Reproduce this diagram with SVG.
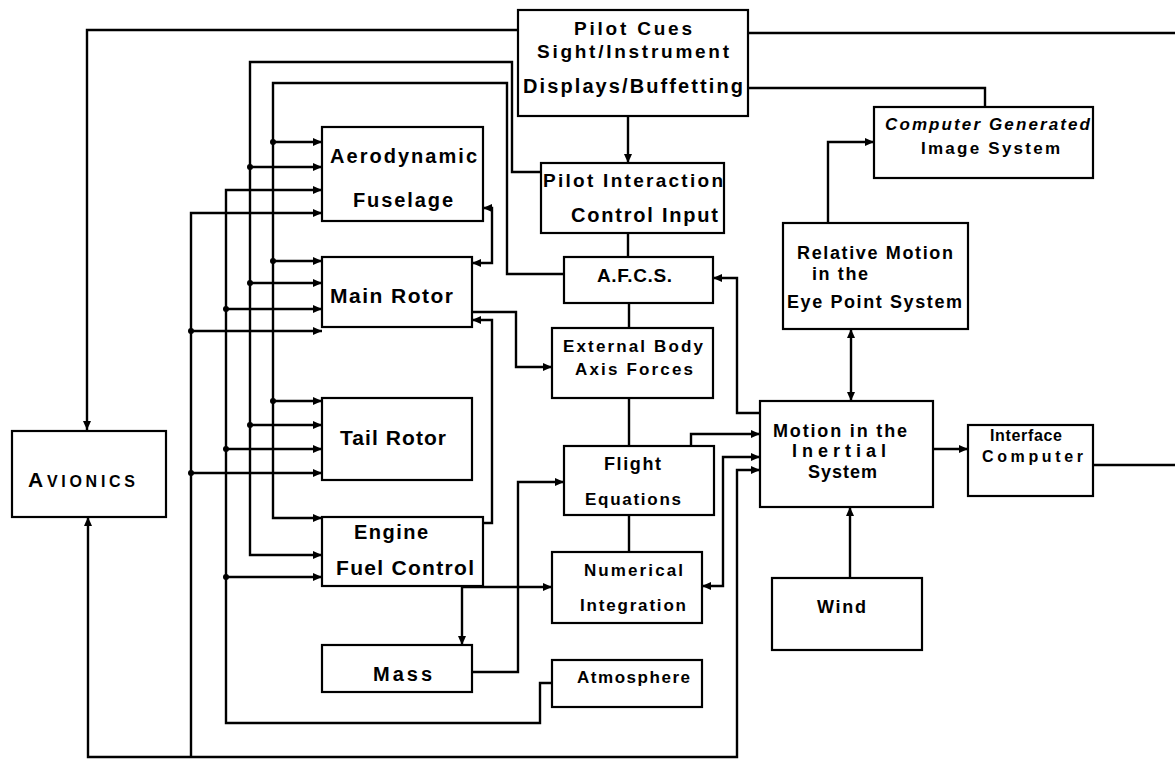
<svg xmlns="http://www.w3.org/2000/svg" width="1175" height="759" viewBox="0 0 1175 759">
<style>
.box{fill:#fff;stroke:#000;stroke-width:2.2}
.c{fill:none;stroke:#000;stroke-width:2.4;stroke-linejoin:miter}
.a{marker-end:url(#arr)}
.b{marker-start:url(#arr);marker-end:url(#arr)}
.t{marker-start:url(#dot);marker-end:url(#arr)}
text{font-family:"Liberation Sans",Arial,sans-serif;font-weight:bold;fill:#000}
</style>
<defs>
<marker id="arr" markerUnits="userSpaceOnUse" markerWidth="9" markerHeight="8" refX="9" refY="4" orient="auto-start-reverse"><path d="M0,0 L9,4 L0,8 z" fill="#000"/></marker>
<marker id="dot" markerUnits="userSpaceOnUse" markerWidth="7" markerHeight="7" refX="3.5" refY="3.5"><circle cx="3.5" cy="3.5" r="3" fill="#000"/></marker>
</defs>
<g id="connectors">
<path class="c a" d="M518,30 H87 V430"/>
<path class="c" d="M748,33 H1175"/>
<path class="c" d="M748,88 H985 V107"/>
<path class="c a" d="M628,116 V163"/>
<path class="c a" d="M541,172 H512 V62 H250 V555 H322"/>
<path class="c t" d="M250,167 H322"/>
<path class="c t" d="M250,283 H322"/>
<path class="c t" d="M250,425 H322"/>
<path class="c a" d="M564,274 H507 V83 H273 V518 H322"/>
<path class="c t" d="M273,142 H322"/>
<path class="c t" d="M273,261 H322"/>
<path class="c t" d="M273,401 H322"/>
<path class="c a" d="M552,683 H540 V723 H226 V190 H322"/>
<path class="c t" d="M226,309 H322"/>
<path class="c t" d="M226,449 H322"/>
<path class="c t" d="M226,577 H322"/>
<path class="c a" d="M191,757 V213 H322"/>
<path class="c t" d="M191,331 H322"/>
<path class="c t" d="M191,473 H322"/>
<path class="c b" d="M760,470 H737 V757 H88 V517"/>
<path class="c b" d="M483,208 H492 V263 H472"/>
<path class="c a" d="M472,312 H516 V367 H552"/>
<path class="c a" d="M483,523 H492 V320 H472"/>
<path class="c a" d="M462,587 V645"/>
<path class="c a" d="M462,587 H552"/>
<path class="c a" d="M472,672 H518 V482 H564"/>
<path class="c a" d="M691,446 V434 H760"/>
<path class="c a" d="M760,413 H737 V278 H713"/>
<path class="c b" d="M702,586 H723 V457 H760"/>
<path class="c b" d="M851,329 V401"/>
<path class="c a" d="M828,223 V142 H874"/>
<path class="c a" d="M933,449 H968"/>
<path class="c" d="M1093,465 H1175"/>
<path class="c a" d="M850,578 V507"/>
<path class="c" d="M628,233 V257 M629,303 V328 M629,398 V446 M629,515 V552"/>
</g>
<g id="pilot-cues"><rect class="box" x="518" y="10" width="230" height="106"/>
<text x="574" y="35" font-size="19" textLength="118" lengthAdjust="spacing">Pilot Cues</text>
<text x="537" y="58" font-size="19" textLength="192" lengthAdjust="spacing">Sight/Instrument</text>
<text x="523" y="93" font-size="20" textLength="220" lengthAdjust="spacing">Displays/Buffetting</text></g>
<g id="pilot-interaction"><rect class="box" x="541" y="163" width="183" height="70"/>
<text x="543" y="187" font-size="19" textLength="180" lengthAdjust="spacing">Pilot Interaction</text>
<text x="571" y="222" font-size="20" textLength="147" lengthAdjust="spacing">Control Input</text></g>
<g id="aerodynamic-fuselage"><rect class="box" x="322" y="127" width="161" height="94"/>
<text x="330" y="163" font-size="20" textLength="147" lengthAdjust="spacing">Aerodynamic</text>
<text x="353" y="207" font-size="20" textLength="100" lengthAdjust="spacing">Fuselage</text></g>
<g id="main-rotor"><rect class="box" x="322" y="257" width="150" height="70"/>
<text x="330" y="303" font-size="21" textLength="123" lengthAdjust="spacing">Main Rotor</text></g>
<g id="tail-rotor"><rect class="box" x="322" y="398" width="150" height="82"/>
<text x="340" y="445" font-size="21" textLength="106" lengthAdjust="spacing">Tail Rotor</text></g>
<g id="engine-fuel-control"><rect class="box" x="322" y="517" width="161" height="69"/>
<text x="354" y="539" font-size="20" textLength="74" lengthAdjust="spacing">Engine</text>
<text x="336" y="575" font-size="21" textLength="138" lengthAdjust="spacing">Fuel Control</text></g>
<g id="mass"><rect class="box" x="322" y="645" width="150" height="47"/>
<text x="373" y="681" font-size="20" textLength="59" lengthAdjust="spacing">Mass</text></g>
<g id="avionics"><rect class="box" x="12" y="431" width="154" height="86"/>
<text x="28" y="487" font-size="21" textLength="107" lengthAdjust="spacing">A<tspan font-size="16">VIONICS</tspan></text></g>
<g id="afcs"><rect class="box" x="564" y="257" width="149" height="46"/>
<text x="597" y="282" font-size="19" textLength="75" lengthAdjust="spacing">A.F.C.S.</text></g>
<g id="external-body-axis-forces"><rect class="box" x="552" y="328" width="161" height="70"/>
<text x="563" y="352" font-size="17" textLength="140" lengthAdjust="spacing">External Body</text>
<text x="575" y="375" font-size="17" textLength="118" lengthAdjust="spacing">Axis Forces</text></g>
<g id="flight-equations"><rect class="box" x="564" y="446" width="150" height="69"/>
<text x="604" y="470" font-size="18" textLength="57" lengthAdjust="spacing">Flight</text>
<text x="585" y="505" font-size="17" textLength="96" lengthAdjust="spacing">Equations</text></g>
<g id="numerical-integration"><rect class="box" x="552" y="552" width="150" height="71"/>
<text x="584" y="576" font-size="17" textLength="99" lengthAdjust="spacing">Numerical</text>
<text x="580" y="611" font-size="17" textLength="106" lengthAdjust="spacing">Integration</text></g>
<g id="atmosphere"><rect class="box" x="552" y="660" width="150" height="47"/>
<text x="577" y="683" font-size="17" textLength="113" lengthAdjust="spacing">Atmosphere</text></g>
<g id="computer-generated-image-system"><rect class="box" x="874" y="107" width="219" height="71"/>
<text x="885" y="130" font-size="17" font-style="italic" textLength="205" lengthAdjust="spacing">Computer Generated</text>
<text x="921" y="154" font-size="17" textLength="139" lengthAdjust="spacing">Image System</text></g>
<g id="relative-motion"><rect class="box" x="783" y="223" width="185" height="106"/>
<text x="797" y="259" font-size="18" textLength="156" lengthAdjust="spacing">Relative Motion</text>
<text x="812" y="280" font-size="18" textLength="56" lengthAdjust="spacing">in the</text>
<text x="787" y="308" font-size="18" textLength="175" lengthAdjust="spacing">Eye Point System</text></g>
<g id="motion-inertial"><rect class="box" x="760" y="401" width="173" height="106"/>
<text x="773" y="437" font-size="18" textLength="134" lengthAdjust="spacing">Motion in the</text>
<text x="792" y="457" font-size="18" textLength="94" lengthAdjust="spacing">Inertial</text>
<text x="808" y="478" font-size="18" textLength="69" lengthAdjust="spacing">System</text></g>
<g id="interface-computer"><rect class="box" x="968" y="425" width="125" height="71"/>
<text x="990" y="441" font-size="16" textLength="72" lengthAdjust="spacing">Interface</text>
<text x="982" y="462" font-size="16" textLength="101" lengthAdjust="spacing">Computer</text></g>
<g id="wind"><rect class="box" x="772" y="578" width="150" height="72"/>
<text x="817" y="613" font-size="18" textLength="49" lengthAdjust="spacing">Wind</text></g>
</svg>
